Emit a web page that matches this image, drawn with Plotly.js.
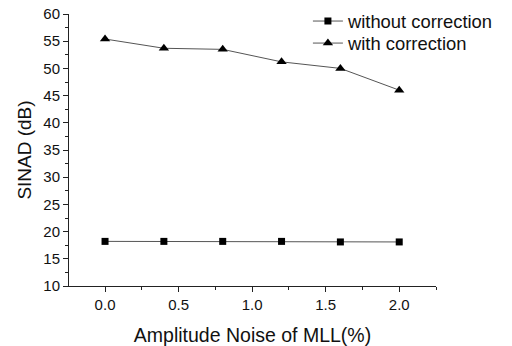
<!DOCTYPE html>
<html><head><meta charset="utf-8">
<script src="https://cdn.plot.ly/plotly-3.0.1.min.js"></script>
<style>html,body{margin:0;padding:0;background:#fff}#chart{width:512px;height:346px}</style>
</head><body><div id="chart"></div>
<script>
const noise = [0.0, 0.4, 0.8, 1.2, 1.6, 2.0];
const withoutCorrection = [18.2, 18.2, 18.2, 18.2, 18.1, 18.1];
const withCorrection = [55.4, 53.7, 53.5, 51.2, 50.0, 46.0];
const xTicks = [0.0, 0.5, 1.0, 1.5, 2.0];
const xTickText = ['0.0', '0.5', '1.0', '1.5', '2.0'];
const yTicks = [10, 15, 20, 25, 30, 35, 40, 45, 50, 55, 60];

const font = 'Liberation Sans, Arial, sans-serif';
const traces = [
  {x: noise, y: withoutCorrection, name: 'without correction', mode: 'lines+markers', legend: 'legend',
   line: {color: '#555', width: 1}, marker: {symbol: 'square', size: 7, color: '#000'}},
  {x: noise, y: withCorrection, name: 'with correction', mode: 'lines+markers', legend: 'legend2',
   line: {color: '#555', width: 1}, marker: {symbol: 'triangle-up', size: 9, color: '#000'}}
];
const legFont = {family: font, size: 18.4, color: '#111'};
const layout = {
  width: 512, height: 346,
  margin: {l: 69, r: 76, t: 14, b: 60, autoexpand: false},
  paper_bgcolor: '#fff', plot_bgcolor: '#fff',
  font: {family: font, color: '#111', size: 14},
  showlegend: true,
  legend: {x: 0.651, y: 1.042, xanchor: 'left', yanchor: 'top', bgcolor: 'rgba(0,0,0,0)', font: legFont},
  legend2: {x: 0.651, y: 0.961, xanchor: 'left', yanchor: 'top', bgcolor: 'rgba(0,0,0,0)', font: legFont},
  xaxis: {range: [-0.245, 2.25], tickvals: xTicks, ticktext: xTickText,
    showgrid: false, zeroline: false, showline: true, linecolor: '#222', linewidth: 1,
    ticks: 'outside', ticklen: 5, tickcolor: '#222',
    minor: {dtick: 0.25, tick0: 0, ticks: 'outside', ticklen: 3, tickcolor: '#222'},
    tickfont: {size: 15, family: font},
    title: {text: 'Amplitude Noise of MLL(%)', font: {size: 19.5, family: font}, standoff: 16}},
  yaxis: {range: [10, 60], tickvals: yTicks,
    showgrid: false, zeroline: false, showline: true, linecolor: '#222', linewidth: 1,
    ticks: 'outside', ticklen: 5, tickcolor: '#222',
    minor: {dtick: 2.5, tick0: 0, ticks: 'outside', ticklen: 3, tickcolor: '#222'},
    tickfont: {size: 15, family: font},
    title: {text: 'SINAD (dB)', font: {size: 19, family: font}, standoff: 6}}
};
Plotly.newPlot('chart', traces, layout, {staticPlot: true});
</script></body></html>
